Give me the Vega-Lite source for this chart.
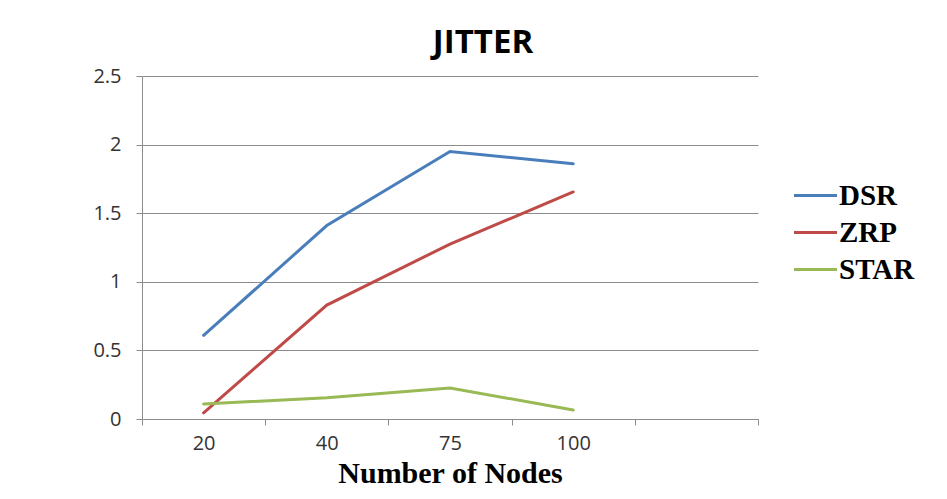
{
  "$schema": "https://vega.github.io/schema/vega-lite/v6.json",
  "autosize": "none",
  "width": 616,
  "height": 343,
  "padding": {"left": 142, "top": 76, "right": 189, "bottom": 80},
  "background": "white",
  "title": {
    "text": "JITTER",
    "font": "Open Sans",
    "fontSize": 33,
    "fontWeight": "bold",
    "color": "#000000",
    "anchor": "middle",
    "frame": "group",
    "dx": 33,
    "offset": 6
  },
  "data": {
    "values": [
      {"nodes": "20", "protocol": "DSR", "jitter": 0.61},
      {"nodes": "40", "protocol": "DSR", "jitter": 1.41},
      {"nodes": "75", "protocol": "DSR", "jitter": 1.95},
      {"nodes": "100", "protocol": "DSR", "jitter": 1.86},
      {"nodes": "20", "protocol": "ZRP", "jitter": 0.045},
      {"nodes": "40", "protocol": "ZRP", "jitter": 0.83},
      {"nodes": "75", "protocol": "ZRP", "jitter": 1.275},
      {"nodes": "100", "protocol": "ZRP", "jitter": 1.655},
      {"nodes": "20", "protocol": "STAR", "jitter": 0.11},
      {"nodes": "40", "protocol": "STAR", "jitter": 0.155},
      {"nodes": "75", "protocol": "STAR", "jitter": 0.226},
      {"nodes": "100", "protocol": "STAR", "jitter": 0.066}
    ]
  },
  "mark": {"type": "line", "strokeWidth": 3, "strokeCap": "round"},
  "encoding": {
    "x": {
      "field": "nodes",
      "type": "ordinal",
      "sort": ["20", "40", "75", "100", " "],
      "scale": {"domain": ["20", "40", "75", "100", " "], "paddingInner": 0, "paddingOuter": 0},
      "axis": {
        "title": "Number of Nodes",
        "titleFont": "Liberation Serif",
        "titleFontSize": 30,
        "titleFontWeight": "bold",
        "titleColor": "#000000",
        "titlePadding": 5,
        "labelAngle": 0,
        "labelFont": "Open Sans",
        "labelFontSize": 20,
        "labelColor": "#333333",
        "labelPadding": 8,
        "tickBand": "extent",
        "tickSize": 6,
        "tickColor": "#8c8c8c",
        "domainColor": "#8c8c8c",
        "grid": false
      }
    },
    "y": {
      "field": "jitter",
      "type": "quantitative",
      "scale": {"domain": [0, 2.5], "nice": false},
      "axis": {
        "title": null,
        "values": [0, 0.5, 1, 1.5, 2, 2.5],
        "format": "~g",
        "labelFont": "Open Sans",
        "labelFontSize": 20,
        "labelColor": "#333333",
        "labelPadding": 15,
        "tickSize": 6,
        "tickColor": "#8c8c8c",
        "domainColor": "#8c8c8c",
        "grid": true,
        "gridColor": "#8c8c8c",
        "gridWidth": 1
      }
    },
    "color": {
      "field": "protocol",
      "type": "nominal",
      "sort": ["DSR", "ZRP", "STAR"],
      "scale": {"domain": ["DSR", "ZRP", "STAR"], "range": ["#4A7EBB", "#BE4B48", "#98B954"]},
      "legend": {
        "title": null,
        "orient": "none",
        "legendX": 659,
        "legendY": 105,
        "symbolType": "M-2,0H2",
        "symbolSize": 462,
        "symbolStrokeWidth": 3,
        "labelFont": "Liberation Serif",
        "labelFontSize": 29,
        "labelFontWeight": "bold",
        "labelColor": "#000000",
        "labelOffset": 9,
        "rowPadding": 7
      }
    }
  },
  "config": {
    "view": {"stroke": null}
  }
}
